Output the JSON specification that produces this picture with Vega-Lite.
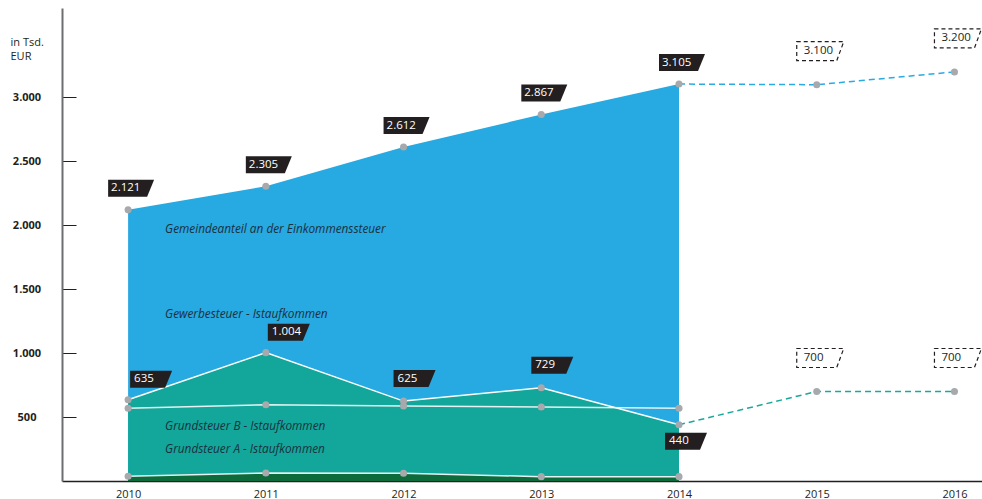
{
  "$schema": "https://vega.github.io/schema/vega-lite/v6.json",
  "width": 920,
  "height": 473,
  "autosize": {"type": "none"},
  "padding": {"left": 62, "top": 8, "right": 0, "bottom": 18},
  "background": "white",
  "config": {
    "view": {"stroke": null},
    "font": "Open Sans",
    "locale": {"number": {"decimal": ",", "thousands": ".", "grouping": [3], "currency": ["", " €"]}}
  },
  "datasets": {
    "werte": [
      {"jahr": 2010, "reihe": "Einkommensteuer", "wert": 2121},
      {"jahr": 2011, "reihe": "Einkommensteuer", "wert": 2305},
      {"jahr": 2012, "reihe": "Einkommensteuer", "wert": 2612},
      {"jahr": 2013, "reihe": "Einkommensteuer", "wert": 2867},
      {"jahr": 2014, "reihe": "Einkommensteuer", "wert": 3105},
      {"jahr": 2015, "reihe": "Einkommensteuer", "wert": 3100},
      {"jahr": 2016, "reihe": "Einkommensteuer", "wert": 3200},
      {"jahr": 2010, "reihe": "Gewerbesteuer", "wert": 635},
      {"jahr": 2011, "reihe": "Gewerbesteuer", "wert": 1004},
      {"jahr": 2012, "reihe": "Gewerbesteuer", "wert": 625},
      {"jahr": 2013, "reihe": "Gewerbesteuer", "wert": 729},
      {"jahr": 2014, "reihe": "Gewerbesteuer", "wert": 440},
      {"jahr": 2015, "reihe": "Gewerbesteuer", "wert": 700},
      {"jahr": 2016, "reihe": "Gewerbesteuer", "wert": 700},
      {"jahr": 2010, "reihe": "Grundsteuer B", "wert": 569},
      {"jahr": 2011, "reihe": "Grundsteuer B", "wert": 597},
      {"jahr": 2012, "reihe": "Grundsteuer B", "wert": 587},
      {"jahr": 2013, "reihe": "Grundsteuer B", "wert": 579},
      {"jahr": 2014, "reihe": "Grundsteuer B", "wert": 569},
      {"jahr": 2010, "reihe": "Grundsteuer A", "wert": 37},
      {"jahr": 2011, "reihe": "Grundsteuer A", "wert": 62},
      {"jahr": 2012, "reihe": "Grundsteuer A", "wert": 60},
      {"jahr": 2013, "reihe": "Grundsteuer A", "wert": 34},
      {"jahr": 2014, "reihe": "Grundsteuer A", "wert": 34}
    ],
    "notizen": [
      {"jahr": 2010, "wert": 1975, "text": "Gemeindeanteil an der Einkommenssteuer"},
      {"jahr": 2010, "wert": 1310, "text": "Gewerbesteuer - Istaufkommen"},
      {"jahr": 2010, "wert": 430, "text": "Grundsteuer B - Istaufkommen"},
      {"jahr": 2010, "wert": 250, "text": "Grundsteuer A - Istaufkommen"}
    ]
  },
  "data": {"name": "werte"},
  "encoding": {
    "x": {
      "field": "jahr", "type": "quantitative",
      "scale": {"domain": [2009.52, 2016.2], "nice": false, "zero": false},
      "axis": {
        "title": null, "values": [2010, 2011, 2012, 2013, 2014, 2015, 2016], "format": "d",
        "ticks": false, "grid": false, "domainColor": "#231f20", "domainWidth": 1.5,
        "labelFontSize": 11, "labelColor": "#231f20", "labelPadding": 7
      }
    },
    "y": {
      "field": "wert", "type": "quantitative",
      "scale": {"domain": [0, 3700], "nice": false},
      "axis": {
        "values": [500, 1000, 1500, 2000, 2500, 3000], "format": ",d", "grid": false,
        "tickSize": -14, "tickColor": "#231f20", "tickWidth": 1,
        "domainColor": "#6d6e71", "domainWidth": 2,
        "labelFontWeight": "bold", "labelFontSize": 11, "labelColor": "#231f20",
        "labelAlign": "center", "labelPadding": 49.5,
        "title": ["in Tsd.", "EUR"], "titleAngle": 0, "titleAlign": "left", "titleBaseline": "top",
        "titleX": -52, "titleY": 28, "titleFontWeight": "normal", "titleFontSize": 11,
        "titleColor": "#231f20", "titleLineHeight": 14.5
      }
    }
  },
  "layer": [
    {
      "transform": [{"filter": "datum.reihe == 'Einkommensteuer' && datum.jahr <= 2014"}],
      "mark": {"type": "area", "color": "#27a9e1", "opacity": 1}
    },
    {
      "transform": [{"filter": "datum.reihe == 'Gewerbesteuer' && datum.jahr <= 2014"}],
      "mark": {"type": "area", "color": "#12a79a", "opacity": 1}
    },
    {
      "transform": [{"filter": "datum.reihe == 'Grundsteuer B'"}],
      "mark": {"type": "line", "color": "#e4f2f1", "strokeWidth": 1.5}
    },
    {
      "transform": [{"filter": "datum.reihe == 'Gewerbesteuer' && datum.jahr <= 2014"}],
      "mark": {"type": "line", "color": "#ffffff", "strokeWidth": 1.5}
    },
    {
      "transform": [{"filter": "datum.reihe == 'Grundsteuer A'"}],
      "mark": {"type": "area", "color": "#0d6a3a", "opacity": 1}
    },
    {
      "transform": [{"filter": "datum.reihe == 'Grundsteuer A'"}],
      "mark": {"type": "line", "color": "#e4f2f1", "strokeWidth": 1.5}
    },
    {
      "transform": [{"filter": "datum.reihe == 'Einkommensteuer' && datum.jahr >= 2014"}],
      "mark": {"type": "line", "color": "#29abe2", "strokeWidth": 1.5, "strokeDash": [6, 4]}
    },
    {
      "transform": [{"filter": "datum.reihe == 'Gewerbesteuer' && datum.jahr >= 2014"}],
      "mark": {"type": "line", "color": "#1aa89c", "strokeWidth": 1.5, "strokeDash": [6, 4]}
    },
    {
      "mark": {"type": "point", "filled": true, "color": "#a7a9ac", "opacity": 1, "size": 50}
    },
    {
      "transform": [
        {"filter": "datum.reihe == 'Einkommensteuer' || datum.reihe == 'Gewerbesteuer'"},
        {"calculate": "datum.jahr > 2014 ? 'p' : (datum.reihe == 'Einkommensteuer' ? 'e' : (datum.jahr == 2014 ? 'u' : (datum.jahr <= 2011 ? 'g1' : 'g2')))", "as": "lage"},
        {"calculate": "replace(format(datum.wert, ',d'), ',', '.')", "as": "beschriftung"}
      ],
      "layer": [
        {
          "transform": [{"filter": "datum.jahr <= 2014"}],
          "mark": {"type": "point", "filled": true, "fill": "#231f20", "stroke": null, "opacity": 1, "size": 4},
          "encoding": {
            "shape": {
              "field": "lage", "type": "nominal", "legend": null,
              "scale": {
                "domain": ["e", "g1", "g2", "u", "p"],
                "range": [
                  "M -20 -30 L 26 -30 L 19 -13 L -20 -13 Z",
                  "M 2 -29 L 44 -29 L 37 -12 L 2 -12 Z",
                  "M -10 -31 L 32 -31 L 25 -14 L -10 -14 Z",
                  "M -14 8 L 28 8 L 21 25 L -14 25 Z",
                  "M -20 -43 L 27 -43 L 20 -24 L -20 -24 Z"
                ]
              }
            }
          }
        },
        {
          "transform": [{"filter": "datum.jahr > 2014"}],
          "mark": {"type": "point", "filled": false, "fill": null, "stroke": "#231f20", "strokeWidth": 1.2, "strokeDash": [4, 3], "opacity": 1, "size": 4},
          "encoding": {
            "shape": {"field": "lage", "type": "nominal", "legend": null}
          }
        },
        {
          "transform": [{"filter": "datum.lage == 'e'"}],
          "mark": {"type": "text", "align": "left", "baseline": "middle", "dx": -17, "dy": -21.5, "fontSize": 11.5, "color": "#ffffff"},
          "encoding": {"text": {"field": "beschriftung"}}
        },
        {
          "transform": [{"filter": "datum.lage == 'g1'"}],
          "mark": {"type": "text", "align": "left", "baseline": "middle", "dx": 6, "dy": -20.5, "fontSize": 11.5, "color": "#ffffff"},
          "encoding": {"text": {"field": "beschriftung"}}
        },
        {
          "transform": [{"filter": "datum.lage == 'g2'"}],
          "mark": {"type": "text", "align": "left", "baseline": "middle", "dx": -6, "dy": -22.5, "fontSize": 11.5, "color": "#ffffff"},
          "encoding": {"text": {"field": "beschriftung"}}
        },
        {
          "transform": [{"filter": "datum.lage == 'u'"}],
          "mark": {"type": "text", "align": "left", "baseline": "middle", "dx": -10, "dy": 16.5, "fontSize": 11.5, "color": "#ffffff"},
          "encoding": {"text": {"field": "beschriftung"}}
        },
        {
          "transform": [{"filter": "datum.lage == 'p'"}],
          "mark": {"type": "text", "align": "left", "baseline": "middle", "dx": -13, "dy": -33.5, "fontSize": 11.5, "color": "#231f20"},
          "encoding": {"text": {"field": "beschriftung"}}
        }
      ]
    },
    {
      "data": {"name": "notizen"},
      "mark": {"type": "text", "align": "left", "baseline": "middle", "dx": 37, "fontSize": 11.8, "fontStyle": "italic", "color": "#1b3040"},
      "encoding": {"text": {"field": "text"}}
    }
  ]
}
